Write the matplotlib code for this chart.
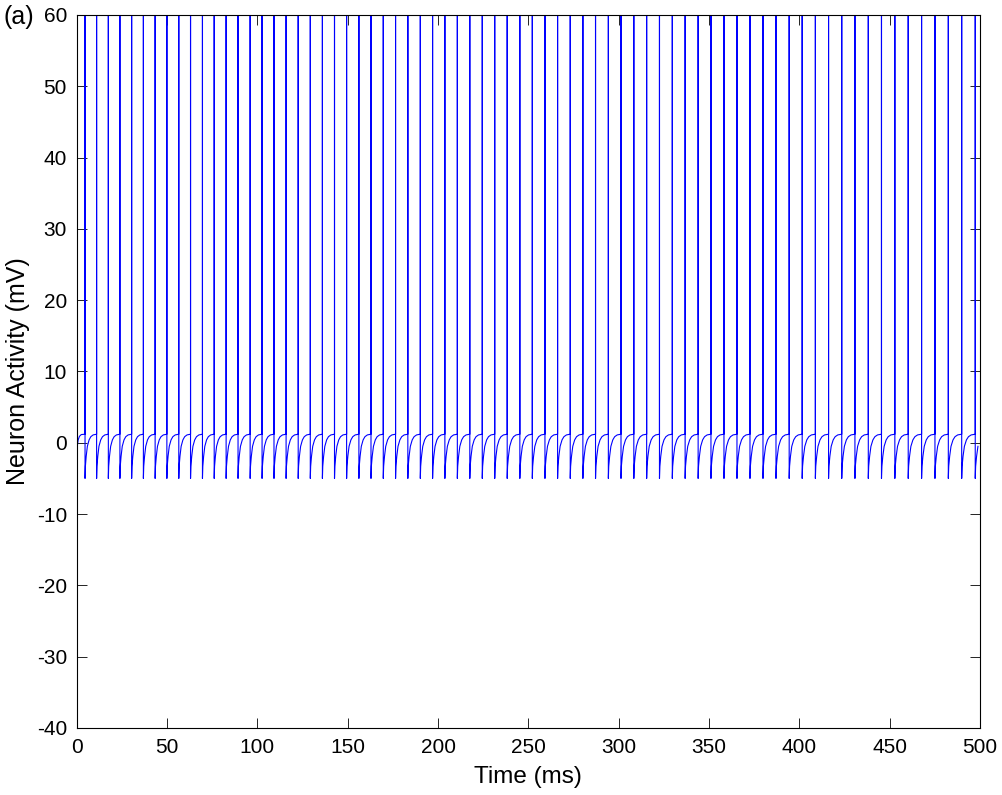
import numpy as np
import matplotlib
matplotlib.use("Agg")
import matplotlib.pyplot as plt

plt.rcParams['font.family'] = ['Liberation Sans', 'DejaVu Sans']
plt.rcParams['axes.unicode_minus'] = False

# ---- data ----
# spike times (ms)
spike_times = [4.6, 11.0, 17.5, 23.9, 30.4, 36.9, 43.4, 49.9, 56.5, 63.0,
               69.6, 76.1, 82.7, 89.3, 96.0, 102.6, 109.2, 115.9, 122.6, 129.3,
               136.0, 142.7, 149.4, 156.2, 162.9, 169.7, 176.5, 183.3, 190.2, 197.0,
               203.8, 210.7, 217.6, 224.5, 231.4, 238.3, 245.3, 252.2, 259.2, 266.2,
               273.2, 280.2, 287.2, 294.3, 301.3, 308.4, 315.5, 322.6, 329.7, 336.8,
               344.0, 351.1, 358.3, 365.5, 372.7, 379.9, 387.1, 394.4, 401.6, 408.9,
               416.2, 423.5, 430.8, 438.2, 445.5, 452.9, 460.3, 467.7, 475.1, 482.5,
               489.9, 497.4]
spike_peak = 100.0      # spikes run off the top of the axes
reset_v = -5.0          # potential right after a spike
# recovery shape between spikes: fraction of the inter-spike interval -> mV
recov_phase = [0.0, 0.03, 0.1, 0.2, 0.35, 0.5, 0.7, 1.0]
recov_v = [-5.0, -3.3, -1.9, -0.5, 0.4, 0.85, 1.1, 1.2]
# initial transient before first spike: ms -> mV
init_t = [0.0, 0.1, 0.2, 0.4, 0.8, 1.5, 2.5, 4.6]
init_v = [-36.0, -10.0, -2.0, -0.3, 0.4, 0.9, 1.15, 1.2]
t_end = 500.0

x_ticks = [0, 50, 100, 150, 200, 250, 300, 350, 400, 450, 500]
y_ticks = [-40, -30, -20, -10, 0, 10, 20, 30, 40, 50, 60]

# ---- build trace from the read values ----
ts, vs = list(init_t), list(init_v)
bounds = list(spike_times) + [t_end]
for k, ts_k in enumerate(spike_times):
    ts += [ts_k, ts_k]
    vs += [spike_peak, reset_v]
    if k + 1 < len(spike_times):
        isi = spike_times[k + 1] - ts_k
    else:
        isi = spike_times[-1] - spike_times[-2]
    seg_end = bounds[k + 1]
    for ph, v in zip(recov_phase[1:], recov_v[1:]):
        tt = ts_k + ph * isi
        if tt > seg_end:
            break
        ts.append(tt)
        vs.append(v)

fig = plt.figure(figsize=(10.03, 7.95), dpi=100)
ax = fig.add_axes([0.0765, 0.0843, 0.9005, 0.8969])
ax.plot(ts, vs, color=(0, 0, 1), linewidth=0.8)
ax.set_xlim(0, 500)
ax.set_ylim(-40, 60)
ax.set_xticks(x_ticks)
ax.set_yticks(y_ticks)
ax.tick_params(direction='in', top=True, right=True, length=7, width=0.6,
               labelsize=15)
ax.tick_params(axis='x', pad=7)
ax.tick_params(axis='y', pad=7)
for s in ax.spines.values():
    s.set_linewidth(0.8)
ax.set_xlabel('Time (ms)', fontsize=17.5, labelpad=7)
ax.set_ylabel('Neuron Activity (mV)', fontsize=18, labelpad=5)
fig.text(0.003, 0.979, '(a)', fontsize=18, ha='left', va='center')

fig.savefig('out.png', dpi=100)
